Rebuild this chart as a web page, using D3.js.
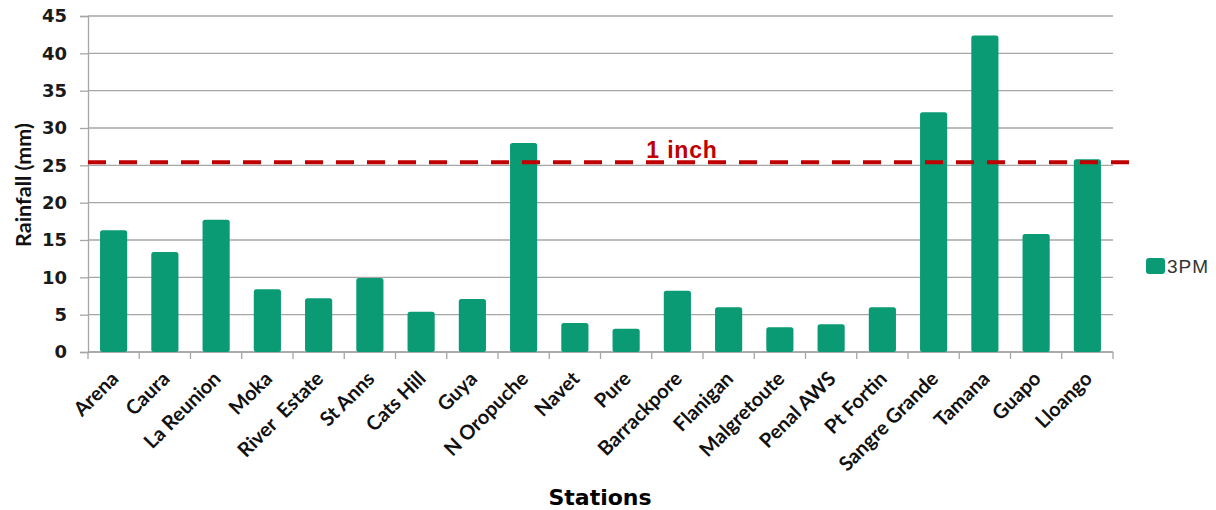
<!DOCTYPE html>
<html>
<head>
<meta charset="utf-8">
<script src="https://cdn.jsdelivr.net/npm/d3@7"></script>
<style>
  html, body { margin: 0; padding: 0; background: #fff; }
  svg { display: block; }
</style>
</head>
<body>
<svg id="chart" width="1216" height="510"></svg>
<script>
// Rainfall at 3PM per station (mm)
const stations = ["Arena", "Caura", "La Reunion", "Moka", "River  Estate", "St Anns", "Cats Hill", "Guya",
  "N Oropuche", "Navet", "Pure", "Barrackpore", "Flanigan", "Malgretoute", "Penal AWS", "Pt Fortin",
  "Sangre Grande", "Tamana", "Guapo", "Lloango"];
const rain3pm = [16.3, 13.4, 17.7, 8.4, 7.2, 9.9, 5.4, 7.1, 28.0, 3.9, 3.1, 8.2, 6.0, 3.3, 3.7, 6.0, 32.1, 42.4, 15.8, 25.8];
const yTicks = [0, 5, 10, 15, 20, 25, 30, 35, 40, 45];
const oneInchMm = 25.4;
const seriesName = "3PM";

const svg = d3.select("#chart");
const m = { left: 88, right: 1113, top: 16, bottom: 352 };

const x = d3.scaleBand().domain(stations).range([m.left, m.right])
  .paddingInner(0.47).paddingOuter(0.235);
const y = d3.scaleLinear().domain([0, 45]).range([m.bottom, m.top]);

const barColor = "#0a9a74";
const gridColor = "#a6a6a6";

// horizontal gridlines
svg.append("g").selectAll("line").data(yTicks).join("line")
  .attr("x1", m.left).attr("x2", m.right)
  .attr("y1", d => y(d)).attr("y2", d => y(d))
  .attr("stroke", gridColor).attr("stroke-width", 1.3);

// y axis
const yAxis = svg.append("g").attr("transform", `translate(${m.left},0)`)
  .call(d3.axisLeft(y).tickValues(yTicks).tickSize(8).tickPadding(13));
yAxis.select(".domain").attr("stroke", gridColor).attr("stroke-width", 1.3);
yAxis.selectAll(".tick line").attr("stroke", gridColor).attr("stroke-width", 1.3);
yAxis.selectAll(".tick text")
  .attr("font-family", "'DejaVu Sans', Verdana, sans-serif")
  .attr("font-weight", "bold").attr("font-size", 18).attr("fill", "#1a1a1a");

// x axis with ticks at category boundaries
svg.append("line").attr("x1", m.left).attr("x2", m.right)
  .attr("y1", m.bottom).attr("y2", m.bottom)
  .attr("stroke", gridColor).attr("stroke-width", 1.3);
svg.append("g").selectAll("line")
  .data(stations.map(s => x(s) - x.step() * x.paddingInner() / 2).concat([m.right]))
  .join("line")
  .attr("x1", d => d).attr("x2", d => d)
  .attr("y1", m.bottom).attr("y2", m.bottom + 7)
  .attr("stroke", gridColor).attr("stroke-width", 1.3);

// bars
svg.append("g").selectAll("rect").data(rain3pm).join("rect")
  .attr("x", (d, i) => x(stations[i]))
  .attr("width", x.bandwidth())
  .attr("y", d => y(d))
  .attr("height", d => y(0) - y(d))
  .attr("rx", 2.5)
  .attr("fill", barColor);

// category labels
svg.append("g").selectAll("text").data(stations).join("text")
  .attr("transform", d => `translate(${x(d) + x.bandwidth() / 2 + 1},${m.bottom + 23}) rotate(-45)`)
  .attr("text-anchor", "end")
  .attr("dy", "0.35em")
  .attr("font-family", "Lato, 'Open Sans', sans-serif")
  .attr("font-weight", "bold").attr("font-size", 20).attr("fill", "#111")
  .style("white-space", "pre")
  .text(d => d);

// 1 inch threshold line
svg.append("line")
  .attr("x1", m.left).attr("x2", 1133)
  .attr("y1", y(oneInchMm)).attr("y2", y(oneInchMm))
  .attr("stroke", "#c00000").attr("stroke-width", 4)
  .attr("stroke-dasharray", "18,13");

svg.append("text")
  .attr("x", 682).attr("y", y(oneInchMm) - 4)
  .attr("text-anchor", "middle")
  .attr("font-family", "'Liberation Sans', Arial, sans-serif")
  .attr("font-weight", "bold").attr("font-size", 23).attr("fill", "#c00000")
  .attr("letter-spacing", 0.8)
  .text("1 inch");

// axis titles
svg.append("text")
  .attr("transform", "translate(31,185) rotate(-90)")
  .attr("text-anchor", "middle")
  .attr("font-family", "Lato, 'Open Sans', sans-serif")
  .attr("font-weight", "bold").attr("font-size", 21.5).attr("fill", "#111")
  .text("Rainfall (mm)");

svg.append("text")
  .attr("x", 600).attr("y", 505)
  .attr("text-anchor", "middle")
  .attr("font-family", "'DejaVu Sans', Verdana, sans-serif")
  .attr("font-weight", "bold").attr("font-size", 22).attr("fill", "#000")
  .text("Stations");

// legend
const lg = svg.append("g").attr("transform", "translate(1146,258)");
lg.append("rect").attr("width", 19).attr("height", 16).attr("rx", 3).attr("fill", barColor);
lg.append("text").attr("x", 21).attr("y", 8).attr("dy", "0.35em")
  .attr("font-family", "'Liberation Sans', Arial, sans-serif")
  .attr("font-size", 19).attr("letter-spacing", 1).attr("fill", "#333")
  .text(seriesName);
</script>
</body>
</html>
